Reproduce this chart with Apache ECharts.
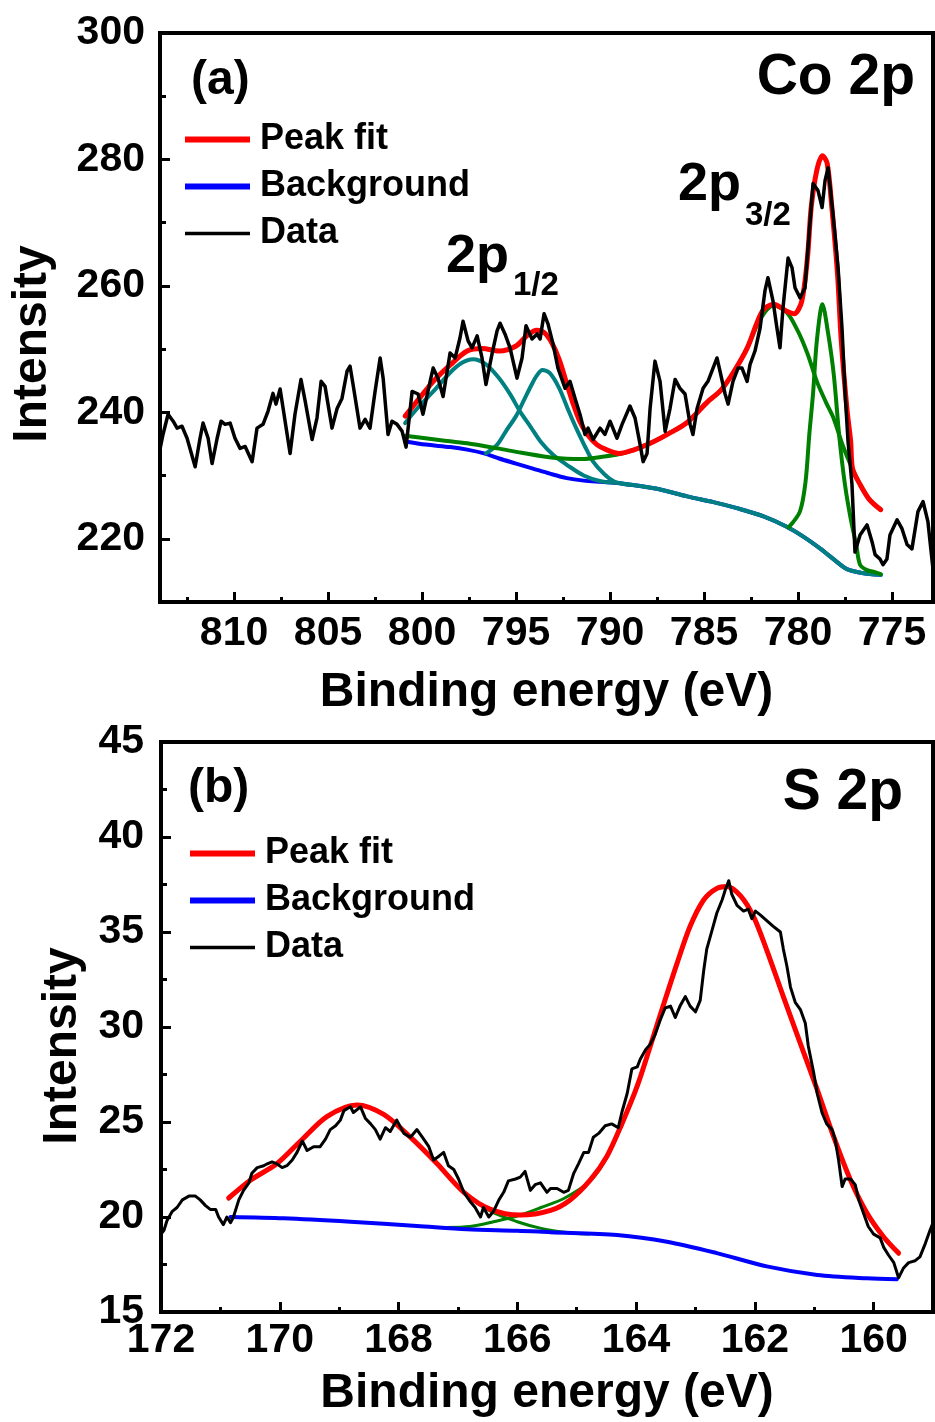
<!DOCTYPE html>
<html><head><meta charset="utf-8">
<script src="https://cdn.jsdelivr.net/npm/echarts@6/dist/echarts.min.js"></script>
<style>html,body{margin:0;padding:0;background:#fff}#c{width:935px;height:1422px}</style>
</head><body><div id="c"></div>
<script>
// ---------- Panel (a): Co 2p ----------
const coData = [[813.95,234.0],[813.78,236.5],[813.51,239.7],[813.24,238.6],[813.03,237.5],[812.77,237.8],[812.50,235.9],[812.07,231.4],[811.81,235.9],[811.65,238.3],[811.38,235.9],[811.17,231.9],[810.90,235.9],[810.69,238.6],[810.48,238.1],[810.21,238.3],[809.95,235.9],[809.68,234.3],[809.41,234.6],[809.04,232.2],[808.78,237.5],[808.46,238.1],[808.19,240.2],[807.93,243.0],[807.77,241.3],[807.55,243.7],[807.39,240.6],[807.02,233.5],[806.76,239.7],[806.44,245.2],[806.22,241.8],[805.85,235.7],[805.59,239.1],[805.37,244.9],[805.16,244.1],[804.79,237.5],[804.52,240.6],[804.26,242.2],[803.99,246.5],[803.83,247.3],[803.67,244.4],[803.30,237.5],[803.03,238.9],[802.77,237.5],[802.50,243.3],[802.23,248.6],[802.07,245.4],[801.81,236.5],[801.60,238.6],[801.33,238.1],[801.06,237.0],[800.85,234.5],[800.53,243.3],[800.21,242.9],[799.95,239.7],[799.57,244.9],[799.41,247.0],[799.15,245.4],[798.88,242.5],[798.51,249.4],[798.24,248.6],[797.98,251.8],[797.82,254.4],[797.55,251.3],[797.34,250.2],[797.07,252.1],[796.81,248.6],[796.60,244.4],[796.28,249.2],[796.01,252.9],[795.85,254.1],[795.59,252.4],[795.32,250.2],[794.95,245.4],[794.68,248.6],[794.47,253.7],[794.15,251.6],[793.88,252.4],[793.72,251.6],[793.51,255.6],[793.30,254.0],[793.03,250.8],[792.77,247.0],[792.39,243.8],[792.13,244.9],[791.86,242.2],[791.60,239.7],[791.33,236.5],[791.17,237.5],[790.90,235.7],[790.53,237.5],[790.27,236.5],[790.00,238.6],[789.63,235.9],[789.36,238.1],[788.94,241.0],[788.67,239.1],[788.40,234.9],[788.24,232.2],[788.03,233.5],[787.87,240.6],[787.61,248.1],[787.34,244.9],[787.07,237.0],[786.81,240.6],[786.54,245.2],[786.28,243.8],[786.01,242.9],[785.74,238.1],[785.59,236.5],[785.37,240.6],[785.05,243.8],[784.79,244.9],[784.52,247.0],[784.31,248.6],[784.15,246.5],[783.88,242.9],[783.72,241.3],[783.46,244.9],[783.19,247.0],[782.98,247.0],[782.71,244.9],[782.55,247.6],[782.29,249.7],[782.02,253.3],[781.76,259.2],[781.60,261.3],[781.33,257.6],[781.12,253.3],[780.96,250.2],[780.80,256.5],[780.53,264.4],[780.32,262.9],[780.16,259.7],[779.89,258.1],[779.63,259.7],[779.47,266.0],[779.20,276.2],[778.94,275.1],[778.72,272.4],[778.56,276.7],[778.40,278.7],[778.14,271.4],[777.87,262.9],[777.66,253.3],[777.50,243.3],[777.34,235.4],[777.13,228.6],[776.97,217.9],[776.70,220.6],[776.33,222.2],[776.06,219.5],[775.90,217.5],[775.64,216.8],[775.48,215.9],[775.27,216.8],[775.11,220.6],[774.73,223.0],[774.47,221.6],[774.20,219.1],[773.94,218.4],[773.62,224.3],[773.35,225.9],[773.09,222.7],[772.82,215.2]];
const coFit = [[800.9,239.4],[800.2,242.0],[799.4,244.9],[798.5,247.5],[797.6,249.7],[796.8,250.1],[795.9,249.7],[795.0,250.5],[794.4,252.2],[793.9,253.0],[793.5,252.6],[793.1,251.0],[792.7,248.3],[792.3,244.5],[792.0,241.7],[791.6,238.5],[791.2,236.5],[790.7,234.9],[790.2,234.1],[789.5,233.5],[788.8,234.0],[787.8,235.2],[786.9,236.6],[785.9,238.4],[784.8,241.7],[784.1,243.5],[783.4,246.5],[782.7,250.2],[781.9,256.0],[781.3,257.1],[780.6,256.0],[780.2,255.6],[779.8,257.6],[779.5,264.4],[779.3,272.4],[779.0,278.3],[778.7,280.6],[778.45,279.4],[778.2,272.4],[777.9,261.9],[777.7,251.3],[777.4,240.6],[777.2,235.4],[777.1,231.1],[776.7,228.6],[776.2,226.2],[775.6,224.6]];
const coBackground = [[800.9,235.4],[799.8,234.9],[798.5,234.5],[797.6,234.1],[796.7,233.5],[795.9,232.7],[795.0,231.9],[794.1,231.1],[793.2,230.3],[792.3,229.6],[791.4,229.2],[790.5,229.0],[789.5,228.8],[787.5,227.9],[785.9,226.7],[784.5,225.8],[783.2,224.8],[781.8,223.5],[780.6,221.9],[779.7,220.3],[778.8,218.4],[778.0,216.5],[777.4,215.2],[776.6,214.6],[775.6,214.3]];
const coHalfMain = [[800.9,238.3],[800.2,240.8],[799.4,243.3],[798.5,246.3],[797.9,247.8],[797.3,248.4],[796.6,247.6],[795.9,245.4],[795.3,242.8],[794.8,240.2],[794.2,237.6],[793.7,235.4],[793.0,233.2],[792.3,231.7],[791.4,230.0],[790.5,229.1],[789.5,228.8],[787.5,227.9],[785.9,226.7],[784.5,225.8],[783.2,224.8],[781.8,223.5],[780.6,221.9],[779.7,220.3],[778.8,218.4],[778.0,216.5],[777.4,215.2],[776.6,214.6],[775.6,214.3]];
const coHalfSat = [[796.6,233.5],[796.0,234.9],[795.5,237.2],[795.0,239.4],[794.6,241.8],[794.2,244.2],[793.9,245.8],[793.6,246.7],[793.2,246.2],[792.7,243.8],[792.2,240.2],[791.8,237.5],[791.3,234.4],[790.9,232.2],[790.3,230.2],[789.8,229.1],[789.0,228.5]];
const coThreeHalfBroad = [[800.9,236.3],[799.0,235.6],[797.6,235.1],[796.0,234.3],[794.7,233.6],[793.0,232.8],[791.5,232.6],[790.3,233.0],[789.5,233.4],[788.8,234.0],[787.8,235.2],[786.9,236.6],[785.9,238.4],[784.8,241.7],[784.1,243.5],[783.4,246.5],[782.7,250.2],[782.0,254.8],[781.3,256.9],[780.6,255.8],[780.0,252.8],[779.5,249.3],[779.0,244.9],[778.5,241.5],[778.1,239.0],[777.6,234.6],[777.1,231.0],[776.7,228.6],[776.2,226.2],[775.6,224.6]];
const coThreeHalfSharp = [[780.5,221.8],[779.9,224.3],[779.6,229.0],[779.4,236.5],[779.2,243.0],[779.0,251.3],[778.7,257.1],[778.4,252.5],[778.1,246.0],[777.8,236.0],[777.5,228.5],[777.2,223.2],[776.9,219.0],[776.7,215.9],[776.3,215.0],[776.0,214.8],[775.6,214.4]];
const coXMajor = [775,780,785,790,795,800,805,810];
const coXMinor = [777.5,782.5,787.5,792.5,797.5,802.5,807.5,812.5];
const coYMajor = [220,240,260,280,300];
const coYMinor = [230,250,270,290];

// ---------- Panel (b): S 2p ----------
const sData = [[172.0,19.1],[171.95,19.3],[171.90,19.8],[171.81,20.3],[171.73,20.5],[171.64,20.9],[171.53,21.1],[171.42,21.1],[171.34,20.9],[171.25,20.6],[171.17,20.4],[171.08,20.4],[171.03,20.0],[170.95,19.6],[170.89,20.0],[170.83,19.7],[170.78,20.0],[170.69,20.9],[170.61,21.4],[170.52,21.8],[170.47,22.3],[170.38,22.6],[170.27,22.7],[170.21,22.8],[170.13,22.9],[170.05,22.8],[169.96,22.6],[169.88,22.7],[169.79,23.0],[169.71,23.4],[169.62,24.0],[169.54,23.5],[169.43,23.7],[169.32,23.7],[169.23,24.1],[169.15,24.6],[169.06,24.8],[168.98,25.1],[168.92,25.6],[168.81,25.8],[168.76,25.5],[168.64,25.8],[168.56,25.2],[168.47,24.9],[168.39,24.6],[168.31,24.1],[168.22,24.7],[168.14,24.5],[168.03,25.1],[167.91,24.4],[167.80,24.2],[167.69,24.6],[167.60,24.2],[167.49,23.7],[167.41,23.0],[167.32,23.2],[167.24,23.4],[167.16,22.7],[167.07,22.5],[166.99,22.0],[166.90,21.3],[166.79,20.8],[166.71,20.5],[166.62,20.0],[166.57,20.5],[166.48,20.0],[166.40,20.3],[166.31,20.9],[166.23,21.3],[166.15,21.9],[166.03,22.0],[165.95,22.1],[165.87,22.4],[165.78,21.4],[165.70,21.7],[165.61,21.8],[165.50,21.3],[165.44,21.5],[165.33,21.5],[165.22,21.3],[165.14,21.4],[165.05,22.3],[164.97,22.8],[164.88,23.4],[164.80,23.4],[164.72,24.2],[164.63,24.4],[164.52,24.8],[164.41,24.9],[164.30,24.7],[164.24,25.5],[164.15,26.5],[164.07,27.8],[163.98,27.9],[163.93,28.3],[163.84,28.8],[163.76,29.1],[163.68,29.6],[163.59,30.4],[163.51,31.0],[163.42,31.1],[163.34,30.5],[163.26,31.1],[163.17,31.6],[163.09,31.1],[163.00,30.8],[162.92,31.4],[162.86,33.0],[162.81,34.1],[162.72,35.1],[162.64,36.0],[162.55,36.7],[162.50,37.2],[162.44,37.7],[162.39,37.0],[162.30,36.4],[162.19,36.1],[162.11,36.2],[162.05,35.7],[161.99,36.1],[161.91,35.9],[161.80,35.6],[161.69,35.3],[161.57,35.0],[161.52,34.1],[161.46,33.2],[161.40,32.1],[161.32,31.3],[161.23,30.9],[161.15,30.2],[161.10,29.0],[161.01,27.6],[160.95,26.5],[160.87,25.5],[160.79,24.9],[160.70,24.6],[160.65,24.1],[160.59,23.0],[160.53,21.6],[160.48,22.0],[160.39,22.0],[160.31,21.7],[160.25,20.9],[160.17,20.2],[160.09,19.5],[160.00,19.1],[159.89,18.9],[159.83,18.4],[159.75,18.0],[159.66,17.6],[159.58,16.8],[159.50,17.3],[159.41,17.6],[159.30,17.7],[159.22,17.9],[159.13,18.6],[159.05,19.3],[159.0,19.7]];
const sFit = [[170.86,21.0],[170.49,21.95],[170.05,22.8],[169.65,24.0],[169.20,25.3],[168.70,25.9],[168.25,25.4],[167.80,24.2],[167.35,22.8],[166.90,21.3],[166.45,20.4],[165.95,20.1],[165.44,20.35],[165.11,20.9],[164.77,21.95],[164.49,23.2],[164.24,24.9],[163.98,26.9],[163.76,29.0],[163.53,31.25],[163.31,33.35],[163.09,35.3],[162.86,36.7],[162.64,37.3],[162.47,37.4],[162.24,36.9],[162.02,35.8],[161.80,34.05],[161.52,31.6],[161.23,29.1],[160.95,26.7],[160.67,24.2],[160.39,21.95],[160.11,20.2],[159.83,18.95],[159.58,18.1]];
const sBackground = [[170.83,20.0],[169.93,19.93],[168.81,19.75],[167.69,19.53],[166.85,19.35],[166.0,19.28],[165.44,19.2],[164.32,19.05],[163.48,18.7],[162.64,18.1],[161.80,17.4],[160.95,16.95],[160.11,16.77],[159.61,16.72]];
const sPeakHigh = [[170.86,20.95],[170.49,21.9],[170.05,22.8],[169.65,24.0],[169.20,25.3],[168.70,25.9],[168.25,25.4],[167.80,24.2],[167.35,22.8],[166.90,21.3],[166.45,20.3],[166.0,19.75],[165.6,19.4],[165.2,19.2],[164.8,19.1]];
const sPeakLow = [[167.2,19.45],[166.8,19.5],[166.4,19.75],[166.0,20.05],[165.6,20.5],[165.2,21.0],[164.77,21.9],[164.49,23.15],[164.24,24.85],[163.98,26.85],[163.76,28.95],[163.53,31.2],[163.31,33.3],[163.09,35.25],[162.86,36.65],[162.64,37.25],[162.47,37.35],[162.24,36.85],[162.02,35.75],[161.80,34.0],[161.52,31.55],[161.23,29.05],[160.95,26.65],[160.67,24.15],[160.39,21.9],[160.11,20.15],[159.83,18.9],[159.58,18.05]];
const sXMajor = [160,162,164,166,168,170,172];
const sXMinor = [161,163,165,167,169,171];
const sYMajor = [15,20,25,30,35,40,45];
const sYMinor = [17.5,22.5,27.5,32.5,37.5,42.5];

const FONT = '"Liberation Sans", Arial, sans-serif';
const LEGEND_NAMES = ['Peak fit', 'Background', 'Data'];

function xAxes(grid, min, max, major, minor, nameGap, margin) {
  return [{
    type: 'value', gridIndex: grid, min: min, max: max, inverse: true, position: 'bottom',
    axisLine: {show: true, onZero: false, lineStyle: {color: '#000', width: 4}},
    axisTick: {show: true, inside: true, length: 10, customValues: major, lineStyle: {color: '#000', width: 3}},
    axisLabel: {show: true, customValues: major, margin: margin, color: '#000', fontSize: 41, fontWeight: 'bold', fontFamily: FONT, showMinLabel: true, showMaxLabel: true},
    splitLine: {show: false},
    name: 'Binding energy (eV)', nameLocation: 'middle', nameGap: nameGap,
    nameTextStyle: {color: '#000', fontSize: 48, fontWeight: 'bold', fontFamily: FONT}
  }, {
    type: 'value', gridIndex: grid, min: min, max: max, inverse: true, position: 'bottom',
    axisLine: {show: false, onZero: false},
    axisTick: {show: true, inside: true, length: 5, customValues: minor, lineStyle: {color: '#000', width: 3}},
    axisLabel: {show: false}, splitLine: {show: false}
  }];
}
function yAxes(grid, min, max, major, minor, margin) {
  return [{
    type: 'value', gridIndex: grid, min: min, max: max, position: 'left',
    axisLine: {show: true, onZero: false, lineStyle: {color: '#000', width: 4}},
    axisTick: {show: true, inside: true, length: 10, customValues: major, lineStyle: {color: '#000', width: 3}},
    axisLabel: {show: true, customValues: major, margin: margin, color: '#000', fontSize: 41, fontWeight: 'bold', fontFamily: FONT, showMinLabel: true, showMaxLabel: true},
    splitLine: {show: false}
  }, {
    type: 'value', gridIndex: grid, min: min, max: max, position: 'left',
    axisLine: {show: false, onZero: false},
    axisTick: {show: true, inside: true, length: 6, customValues: minor, lineStyle: {color: '#000', width: 3}},
    axisLabel: {show: false}, splitLine: {show: false}
  }];
}
function line(name, data, color, width, xi, yi, smooth, z) {
  return {
    type: 'line', name: name, data: data, xAxisIndex: xi, yAxisIndex: yi,
    symbol: 'none', showSymbol: false, smooth: smooth, z: z, silent: true,
    color: color, itemStyle: {color: color},
    lineStyle: {color: color, width: width, cap: 'round', join: 'round'}
  };
}
function legend(left, top) {
  return {
    orient: 'vertical', left: left, top: top, padding: 0, itemGap: 0,
    itemWidth: 65, itemHeight: 6, icon: 'rect', selectedMode: false,
    textStyle: {fontSize: 36, fontWeight: 'bold', fontFamily: FONT, color: '#000', lineHeight: 47, padding: [0, 0, 0, 5]},
    data: [{name: LEGEND_NAMES[0]}, {name: LEGEND_NAMES[1]}, {name: LEGEND_NAMES[2], icon: 'path://M0,0H65V3.5H0Z'}]
  };
}
function txt(text, x, y, size, align, rot) {
  return {
    type: 'text', x: x, y: y, rotation: rot || 0, silent: true,
    style: {text: text, font: 'bold ' + size + 'px ' + FONT, fill: '#000', align: align || 'left', verticalAlign: 'middle'}
  };
}

const RED = '#ff0000', BLUE = '#0000ff', TEAL = '#008080', GREEN = '#008000', BLACK = '#000000';

const option = {
  animation: false,
  backgroundColor: '#fff',
  grid: [
    {left: 160, top: 33, width: 773, height: 569, show: true, borderColor: '#000', borderWidth: 4, backgroundColor: 'transparent'},
    {left: 161, top: 742, width: 772, height: 570, show: true, borderColor: '#000', borderWidth: 4, backgroundColor: 'transparent'}
  ],
  xAxis: [].concat(
    xAxes(0, 772.82, 813.94, coXMajor, coXMinor, 67, 11),
    xAxes(1, 159, 172, sXMajor, sXMinor, 58, 8)
  ),
  yAxis: [].concat(
    yAxes(0, 210, 300, coYMajor, coYMinor, 15),
    yAxes(1, 15, 45, sYMajor, sYMinor, 17)
  ),
  legend: [legend(185, 116), legend(190, 830)],
  series: [
    line('Background', coBackground, BLUE, 4, 0, 0, 0.3, 2),
    line('Co 2p1/2 a', coHalfMain, TEAL, 4, 0, 0, 0.3, 3),
    line('Co 2p1/2 b', coHalfSat, TEAL, 4, 0, 0, 0.3, 3),
    line('Co 2p3/2 a', coThreeHalfBroad, GREEN, 4, 0, 0, 0.3, 4),
    line('Co 2p3/2 b', coThreeHalfSharp, GREEN, 4, 0, 0, 0.3, 4),
    line('Peak fit', coFit, RED, 5, 0, 0, 0.3, 5),
    line('Data', coData, BLACK, 3.5, 0, 0, false, 6),

    line('S 2p a', sPeakHigh, GREEN, 3, 2, 2, 0.3, 3),
    line('S 2p b', sPeakLow, GREEN, 3, 2, 2, 0.3, 3),
    line('Background', sBackground, BLUE, 4, 2, 2, 0.3, 4),
    line('Peak fit', sFit, RED, 5, 2, 2, 0.3, 5),
    line('Data', sData, BLACK, 3, 2, 2, false, 6)
  ],
  graphic: [
    txt('(a)', 191, 81, 48),
    txt('Co 2p', 915, 78, 57, 'right'),
    txt('2p', 446, 257, 54),
    txt('1/2', 513, 286, 33),
    txt('2p', 678, 185, 54),
    txt('3/2', 745, 216, 33),
    txt('Intensity', 33, 344, 48, 'center', Math.PI / 2),
    txt('(b)', 188, 789, 48),
    txt('S 2p', 903, 793, 57, 'right'),
    txt('Intensity', 63, 1046, 48, 'center', Math.PI / 2)
  ]
};
const chart = echarts.init(document.getElementById('c'));
chart.setOption(option);
</script></body></html>
